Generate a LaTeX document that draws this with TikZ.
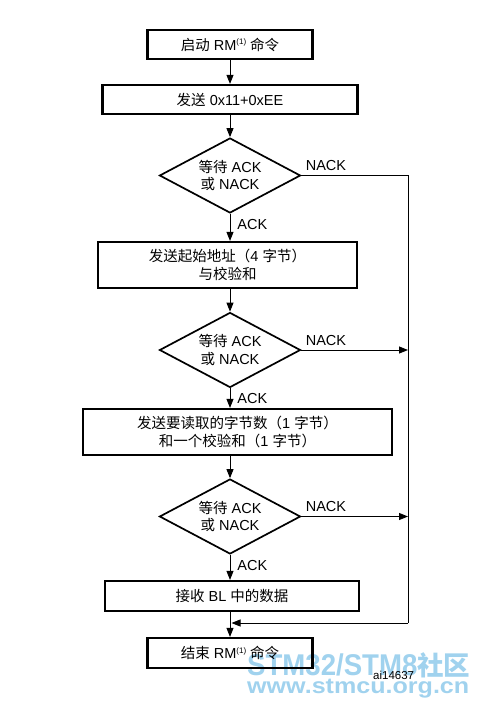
\documentclass[tikz,border=0pt]{standalone}
\usepackage{fontspec}
\setmainfont{Liberation Sans}
\newfontfamily\cjk{Noto Sans CJK SC}
\usetikzlibrary{shapes.geometric,arrows.meta,calc,positioning}
\definecolor{wmblue}{RGB}{160,210,238}
\newcommand{\noteone}{\raisebox{5.5pt}{\fontsize{8}{8}\selectfont(1)}}

\begin{document}
\begin{tikzpicture}[x=1pt,y=-1pt,
		font=\fontsize{14.5}{17.5}\selectfont,
		box/.style={draw, line width=2.2pt, inner sep=0pt, align=center},
		decision/.style={draw, diamond, aspect=1.87, line width=1.7pt, inner sep=0pt,
			minimum width=141pt, minimum height=75pt, align=center},
		line/.style={line width=0.9pt},
		arr/.style={line, -{Triangle[length=9pt,width=7pt]}},
		acklab/.style={pos=0, anchor=north west, inner sep=0pt, xshift=7pt, yshift=-5pt},
		nacklab/.style={pos=0, anchor=base west, inner sep=0pt, xshift=4pt, yshift=5pt}]
			\useasboundingbox (0,0) rectangle (479,709);
			% watermark
			\node[anchor=base west, inner sep=0pt, text=wmblue, font=\fontsize{30}{30}\selectfont\bfseries] (wmtop) at (247,675)
				{\scalebox{0.92}[1]{STM32/STM8}{\cjk\fontsize{26.5}{26.5}\selectfont\bfseries 社区}};
			\node[anchor=base west, inner sep=0pt, text=wmblue, font=\fontsize{22}{22}\selectfont\bfseries] (wmbot) at (247,693)
				{\scalebox{1.14}[1]{www.stmcu.org.cn}};
			% steps
			\node[box, minimum width=165pt, minimum height=29pt] (start) at (230,44.5) {{\cjk 启动} RM\noteone\ {\cjk 命令}};
			\node[box, minimum width=255pt, minimum height=29pt] (send) at (230,99.5) {{\cjk 发送} 0x11+0xEE};
			\node[decision] (ackA) at (230,175.5) {{\cjk 等待} ACK\\{\cjk 或} NACK};
			\node[box, minimum width=259pt, minimum height=46pt] (addr) at (227.5,265) {{\cjk 发送起始地址（}4 {\cjk 字节）}\\{\cjk 与校验和}};
			\node[decision] (ackB) at (230,350) {{\cjk 等待} ACK\\{\cjk 或} NACK};
			\node[box, minimum width=309pt, minimum height=46pt] (count) at (237.5,432) {{\cjk 发送要读取的字节数（}1 {\cjk 字节）}\\{\cjk 和一个校验和（}1 {\cjk 字节）}};
			\node[decision] (ackC) at (230,516.5) {{\cjk 等待} ACK\\{\cjk 或} NACK};
			\node[box, minimum width=254pt, minimum height=30pt] (recv) at (232,596) {{\cjk 接收} BL {\cjk 中的数据}};
			\node[box, minimum width=165pt, minimum height=30pt] (stop) at (230,653) {{\cjk 结束} RM\noteone\ {\cjk 命令}};
			\node[anchor=base west, inner sep=0pt, font=\fontsize{11.5}{13}\selectfont] (fig) at (373,679) {ai14637};
			\coordinate (rail) at (408,0);
			\coordinate (merge) at (231.5,623);
			% flow
			\draw[arr] (start) -- (send);
			\draw[arr] (send) -- (ackA);
			\draw[arr] (ackA.south) -- node[acklab]{ACK} (ackA.south |- addr.north);
			\draw[arr] (addr.south -| ackB) -- (ackB.north);
			\draw[arr] (ackB.south) -- node[acklab]{ACK} (ackB.south |- count.north);
			\draw[arr] (count.south -| ackC) -- (ackC.north);
			\draw[arr] (ackC.south) -- node[acklab]{ACK} (ackC.south |- recv.north);
			\draw[arr] (recv.south -| stop) -- (stop.north);
			% NACK return
			\draw[line] (ackA.east) -- node[nacklab]{NACK} (ackA.east -| rail) -- (rail |- merge);
			\draw[arr] (rail |- merge) -- (merge);
			\draw[arr] (ackB.east) -- node[nacklab]{NACK} (ackB.east -| rail);
			\draw[arr] (ackC.east) -- node[nacklab]{NACK} (ackC.east -| rail);
		\end{tikzpicture}
\end{document}
